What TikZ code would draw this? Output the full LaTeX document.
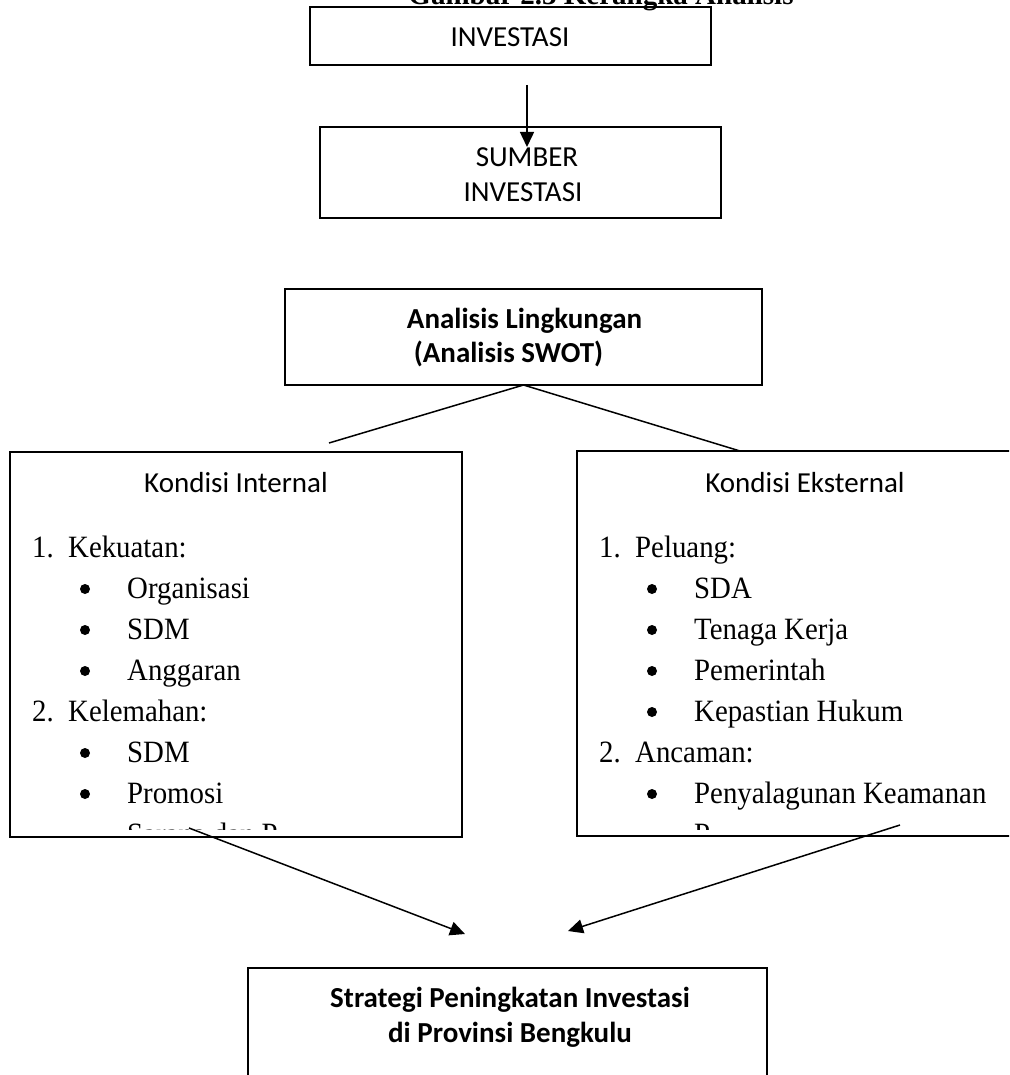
\documentclass[tikz,border=0pt]{standalone}
\usepackage{fontspec}
\setmainfont{Liberation Serif}
\newfontfamily\calfont{Carlito}
\newfontfamily\tallserif[FakeStretch=0.93]{Liberation Serif}
\usetikzlibrary{arrows.meta}
\begin{document}
\begin{tikzpicture}[x=1pt,y=-1pt,
  box/.style={draw, line width=1.5pt, inner sep=0pt, outer sep=0pt},
  sans/.style={font=\calfont\fontsize{29}{35}\selectfont, inner sep=0pt, anchor=base},
  sansb/.style={font=\calfont\bfseries\fontsize{29}{35}\selectfont, inner sep=0pt, anchor=base},
  serif/.style={font=\tallserif\fontsize{31}{37}\selectfont, inner sep=0pt, anchor=base west},
  bul/.style={circle, fill=black, inner sep=0pt, minimum size=10pt},
  conn/.style={line width=1.5pt},
  arr/.style={conn, -{Triangle[length=15pt,width=14pt]}}]
\useasboundingbox (0,0) rectangle (1009,1075);
\clip (0,0) rectangle (1009,1075);

% title (cut off at the top, as in the reference)
\node[font=\bfseries\fontsize{29}{35}\selectfont, inner sep=0pt, anchor=base] (title) at (601,5) {Gambar 2.3 Kerangka Analisis};

% boxes
\node[box, minimum width=401pt, minimum height=58pt] (inv) at (510.5,36) {};
\node[box, minimum width=401pt, minimum height=91pt] (sum) at (520.5,172.5) {};
\node[box, minimum width=477pt, minimum height=96pt] (ana) at (523.5,337) {};
\node[box, minimum width=452pt, minimum height=385pt] (int) at (236,644.5) {};
\node[box, minimum width=468pt, minimum height=385pt] (ext) at (811,643.5) {};
\node[box, minimum width=519pt, minimum height=142pt] (str) at (507.5,1039) {};

% box texts
\node[sans] (tinv) at (510,47) {INVESTASI};
\node[sans] (tsum1) at (527,167) {SUMBER};
\node[sans] (tsum2) at (523,202) {INVESTASI};
\node[sansb] (tana1) at (524.5,328) {Analisis Lingkungan};
\node[sansb] (tana2) at (508.5,362) {(Analisis SWOT)};
\node[sans] (tint) at (236,492) {Kondisi Internal};
\node[sans] (text) at (805,492) {Kondisi Eksternal};
\node[sansb] (tstr1) at (510,1007) {Strategi Peningkatan Investasi};
\node[sansb] (tstr2) at (510,1042) {di Provinsi Bengkulu};

% internal list (cut off at the inner margin of the box)
\begin{scope}
\clip (10,452) rectangle (462,829);
\node[serif] (i1n) at (32,557) {1.};
\node[serif] (i1) at (68,557) {Kekuatan:};
\node[bul] (ib1) at (85,589) {};
\node[serif] (i2) at (127,598) {Organisasi};
\node[bul] (ib2) at (85,630) {};
\node[serif] (i3) at (127,639) {SDM};
\node[bul] (ib3) at (85,671) {};
\node[serif] (i4) at (127,680) {Anggaran};
\node[serif] (i5n) at (32,721) {2.};
\node[serif] (i5) at (68,721) {Kelemahan:};
\node[bul] (ib6) at (85,753) {};
\node[serif] (i6) at (127,762) {SDM};
\node[bul] (ib7) at (85,794) {};
\node[serif] (i7) at (127,803) {Promosi};
\node[serif] (i8) at (127,844) {Sarana dan P};
\end{scope}

% external list
\begin{scope}
\clip (577,451) rectangle (1009,829);
\node[serif] (e1n) at (599,557) {1.};
\node[serif] (e1) at (635,557) {Peluang:};
\node[bul] (eb2) at (652,589) {};
\node[serif] (e2) at (694,598) {SDA};
\node[bul] (eb3) at (652,630) {};
\node[serif] (e3) at (694,639) {Tenaga Kerja};
\node[bul] (eb4) at (652,671) {};
\node[serif] (e4) at (694,680) {Pemerintah};
\node[bul] (eb5) at (652,712) {};
\node[serif] (e5) at (694,721) {Kepastian Hukum};
\node[serif] (e6n) at (599,762) {2.};
\node[serif] (e6) at (635,762) {Ancaman:};
\node[bul] (eb7) at (652,794) {};
\node[serif] (e7) at (694,803) {Penyalagunan Keamanan};
\node[serif] (e8) at (694,844) {P};
\end{scope}

% connectors
\coordinate (a1) at (527,85);
\coordinate (a2) at (527,147);
\draw[arr] (a1) -- (a2);

\coordinate (le) at (329,443);
\coordinate (re) at (740,451);
\draw[conn] (ana.south) -- (le);
\draw[conn] (ana.south) -- (re);

\coordinate (ls) at (189,828);
\coordinate (lt) at (465,934);
\coordinate (rs) at (900,825);
\coordinate (rt) at (568,931);
\draw[arr] (ls) -- (lt);
\draw[arr] (rs) -- (rt);
\end{tikzpicture}
\end{document}
